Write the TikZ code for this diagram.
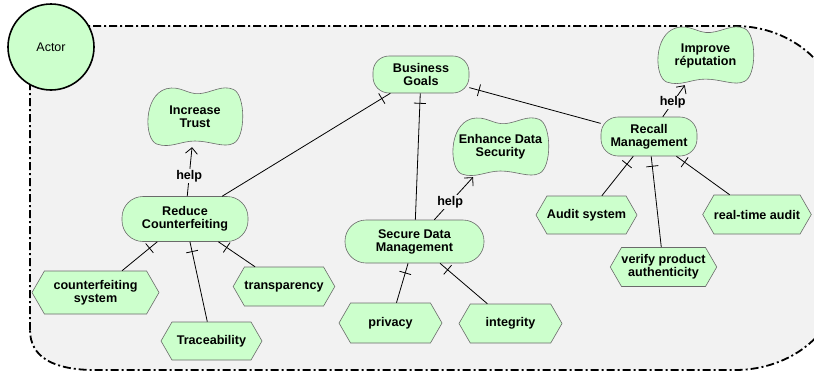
\documentclass[tikz,border=0pt]{standalone}
\usepackage{fontspec}
\setmainfont{Liberation Sans}
\usetikzlibrary{shapes.symbols,decorations.markings,arrows.meta}
\definecolor{nodefill}{HTML}{CCFFCC}
\definecolor{nodeline}{HTML}{6A6A6A}
\definecolor{bgfill}{HTML}{F2F2F2}
\newcommand\softgoal[6]{%
  \begin{scope}[shift={(#2-#4/2,#3-#5/2)},x=#4pt,y=-#5pt]
    \draw[sgline] (0.2,0.03) .. controls (0.35,-0.03) and (0.42,0.13) .. (0.55,0.11)
      .. controls (0.68,0.09) and (0.78,-0.04) .. (0.9,0.04)
      .. controls (1.03,0.13) and (1.03,0.85) .. (0.9,0.94)
      .. controls (0.8,1.02) and (0.66,0.9) .. (0.5,0.9)
      .. controls (0.35,0.9) and (0.24,1.03) .. (0.1,0.95)
      .. controls (-0.03,0.87) and (-0.04,0.14) .. (0.2,0.03) -- cycle;
  \end{scope}
  \node[sgtext,minimum width=#4pt,minimum height=#5pt] (#1) at (#2,#3) {#6};}
\tikzset{
  sgline/.style={fill=nodefill,draw=nodeline,line width=0.6pt},
  sgtext/.style={inner sep=0pt,align=center,font=\fontsize{12.6}{13}\selectfont\bfseries},
  goalbox/.style={rectangle,rounded corners=#1,fill=nodefill,draw=nodeline,line width=0.6pt,
    inner sep=0pt,align=center,font=\fontsize{12.6}{13}\selectfont\bfseries},
  taskbox/.style={signal,signal to=west and east,signal pointer angle=120,fill=nodefill,
    draw=nodeline,line width=0.6pt,inner sep=0pt,align=center,
    font=\fontsize{12.6}{13}\selectfont\bfseries},
  dep/.style={draw=black,line width=0.8pt,
    decoration={markings,mark=at position -10pt with {\draw[line width=0.8pt] (0,-6pt) -- (0,6pt);}},
    postaction={decorate}},
  helpedge/.style={draw=black,line width=0.8pt,-{Straight Barb[length=6pt,width=12pt,line width=0.8pt]}},
  helplbl/.style={fill=bgfill,inner sep=1pt,font=\fontsize{12.6}{13}\selectfont\bfseries}
}
\begin{document}
\begin{tikzpicture}[x=1pt,y=-1pt]
\useasboundingbox (0,0) rectangle (814,375);
\begin{scope}
\clip (0,0) rectangle (814,375);
% boundary
\draw[fill=bgfill,line width=1.8pt,dash pattern=on 8pt off 3pt on 2pt off 3pt]
  (30,330) -- (30,60) .. controls (30,38) and (45,26) .. (80,26) -- (735,26)
  .. controls (793,26) and (840,68) .. (840,120) -- (840,280)
  .. controls (840,330) and (793,370) .. (735,370) -- (95,370)
  .. controls (55,370) and (30,358) .. (30,330) -- cycle;
\end{scope}
\node[circle,draw=black,line width=1.6pt,fill=nodefill,minimum size=86pt,inner sep=0pt,
  font=\fontsize{12.5}{14}\selectfont] (actor) at (51,47) {Actor};
% goals
\node[goalbox=16pt,minimum width=96pt,minimum height=37pt] (BG) at (421,74.5) {Business\\Goals};
\node[goalbox=17pt,minimum width=96pt,minimum height=39pt] (RM) at (649,136.5) {Recall\\Management};
\node[goalbox=21pt,minimum width=126pt,minimum height=45pt] (RC) at (185,219) {Reduce\\Counterfeiting};
\node[goalbox=21pt,minimum width=139pt,minimum height=43pt] (SDM) at (414.5,241.5) {Secure Data\\Management};
% softgoals
\softgoal{IT}{195}{117}{96}{60}{Increase\\Trust}
\softgoal{EDS}{500.5}{147}{97}{60}{Enhance Data\\Security}
\softgoal{IR}{705.5}{55.5}{97}{59}{Improve\\réputation}
% tasks
\node[taskbox,minimum width=127pt,minimum height=43pt] (CS) at (95.5,292.5) {counterfeiting\\system};
\node[taskbox,minimum width=101pt,minimum height=38pt] (TR) at (211.5,341) {Traceability};
\node[taskbox,minimum width=98pt,minimum height=39pt] (TP) at (284,286.5) {transparency};
\node[taskbox,minimum width=103pt,minimum height=40pt] (PR) at (390.5,323) {privacy};
\node[taskbox,minimum width=103pt,minimum height=39pt] (IN) at (510.5,323.5) {integrity};
\node[taskbox,minimum width=101pt,minimum height=38pt] (AS) at (586.5,215) {Audit system};
\node[taskbox,minimum width=103pt,minimum height=39pt] (VP) at (663.5,267) {verify product\\authenticity};
\node[taskbox,minimum width=102pt,minimum height=39pt] (RT) at (757,214.5) {real-time audit};
% dependencies
\draw[dep] (RC) -- (BG);
\draw[dep] (SDM) -- (BG);
\draw[dep] (RM) -- (BG);
\draw[dep] (CS) -- (RC);
\draw[dep] (TR) -- (RC);
\draw[dep] (TP) -- (RC);
\draw[dep] (PR) -- (SDM);
\draw[dep] (IN) -- (SDM);
\draw[dep] (AS) -- (RM);
\draw[dep] (VP) -- (RM);
\draw[dep] (RT) -- (RM);
% help
\draw[helpedge] (RC) -- node[helplbl,pos=0.41] {help} (IT);
\draw[helpedge] (SDM) -- node[helplbl,pos=0.41] {help} (EDS);
\draw[helpedge] (RM) -- node[helplbl,pos=0.45] {help} (IR);
\end{tikzpicture}
\end{document}
